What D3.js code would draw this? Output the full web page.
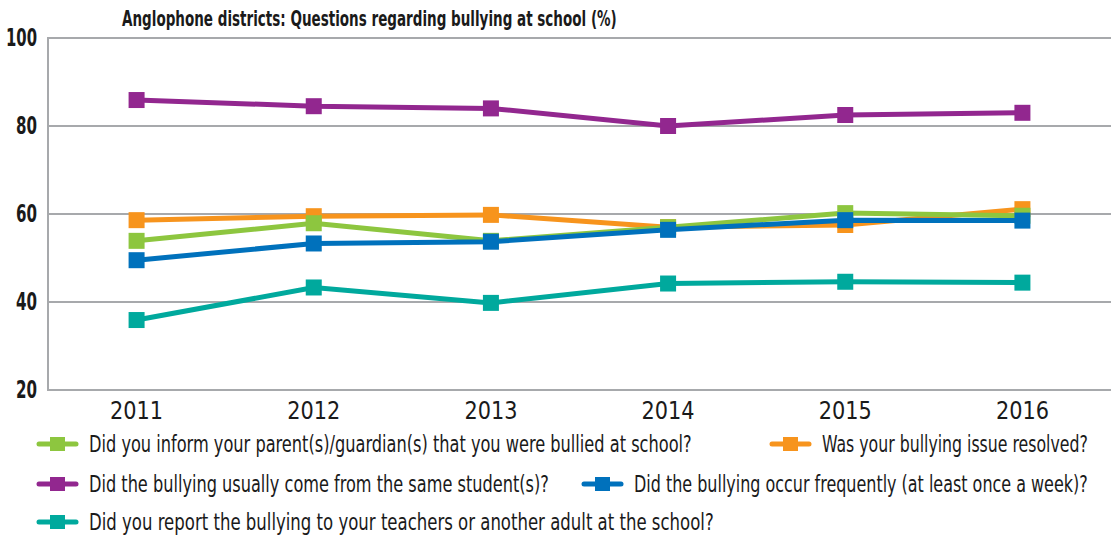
<!DOCTYPE html>
<html>
<head>
<meta charset="utf-8">
<script src="https://cdn.jsdelivr.net/npm/d3@7"></script>
<style>
  body { margin: 0; background: #fff; }
  svg text { font-family: "DejaVu Sans", sans-serif; font-stretch: condensed; fill: #1a1a1a; }
</style>
</head>
<body>
<script>
// data
var years = ["2011", "2012", "2013", "2014", "2015", "2016"];
var informParents = [53.9, 57.9, 53.9, 57.0, 60.2, 59.6];
var issueResolved = [58.6, 59.5, 59.8, 57.0, 57.5, 61.1];
var sameStudent = [85.9, 84.5, 84.0, 80.0, 82.5, 83.0];
var occurFrequently = [49.5, 53.3, 53.7, 56.4, 58.6, 58.5];
var reportTeachers = [35.9, 43.3, 39.8, 44.2, 44.6, 44.4];
var yTicks = [20, 40, 60, 80, 100];

var series = [
  { name: "Was your bullying issue resolved?", values: issueResolved, color: "#f7941d" },
  { name: "Did you inform your parent(s)/guardian(s) that you were bullied at school?", values: informParents, color: "#8dc63f" },
  { name: "Did the bullying usually come from the same student(s)?", values: sameStudent, color: "#92278f" },
  { name: "Did you report the bullying to your teachers or another adult at the school?", values: reportTeachers, color: "#00a99d" },
  { name: "Did the bullying occur frequently (at least once a week)?", values: occurFrequently, color: "#0071bc" }
];

var width = 1111, height = 537;
var plotLeft = 48, plotRight = 1111, plotTop = 38, plotBottom = 390;

var svg = d3.select("body").append("svg")
  .attr("width", width)
  .attr("height", height);

var x = d3.scaleBand().domain(years).range([plotLeft, plotRight]);
var y = d3.scaleLinear().domain([20, 100]).range([plotBottom, plotTop]);

// squeeze a text horizontally to a given width (condensed look)
function squeeze(sel, x0, y0, w) {
  sel.each(function() {
    var n = this.getComputedTextLength();
    var k = typeof w === "function" ? w.apply(this, arguments) : w;
    d3.select(this).attr("transform",
      "translate(" + x0 + "," + y0 + ") scale(" + (k / n) + ",1)");
  });
}

// title
svg.append("text")
  .attr("font-size", 21).attr("font-weight", "bold")
  .text("Anglophone districts: Questions regarding bullying at school (%)")
  .call(squeeze, 122, 26, 495);

// grid lines
svg.append("g").selectAll("line")
  .data(yTicks)
  .join("line")
  .attr("x1", plotLeft).attr("x2", plotRight)
  .attr("y1", function(d) { return y(d); })
  .attr("y2", function(d) { return y(d); })
  .attr("stroke", "#a7a9ac").attr("stroke-width", 2);

svg.append("line")
  .attr("x1", plotLeft).attr("x2", plotLeft)
  .attr("y1", plotTop - 1).attr("y2", plotBottom + 1)
  .attr("stroke", "#a7a9ac").attr("stroke-width", 2);

// y labels
var yAxis = d3.axisLeft(y).tickValues(yTicks).tickSize(0).tickPadding(11);
var gy = svg.append("g").attr("transform", "translate(" + plotLeft + ",0)").call(yAxis);
gy.select(".domain").remove();
gy.selectAll("text")
  .attr("font-size", 24).attr("font-weight", "bold")
  .attr("textLength", function(d) { return d >= 100 ? 31 : 21; })
  .attr("lengthAdjust", "spacingAndGlyphs")
  .style("font-family", "'DejaVu Sans', sans-serif")
  .attr("fill", "#1a1a1a");

// x labels
var xAxis = d3.axisBottom(x).tickSize(0).tickPadding(12);
var gx = svg.append("g").attr("transform", "translate(0," + plotBottom + ")").call(xAxis);
gx.select(".domain").remove();
gx.selectAll("text")
  .attr("font-size", 24)
  .attr("textLength", 53).attr("lengthAdjust", "spacingAndGlyphs")
  .style("font-family", "'DejaVu Sans', sans-serif")
  .attr("fill", "#1a1a1a");

// lines and markers
var line = d3.line()
  .x(function(d, i) { return x(years[i]) + x.bandwidth() / 2; })
  .y(function(d) { return y(d); });

var ms = 16;
series.forEach(function(s) {
  var g = svg.append("g");
  g.append("path")
    .attr("d", line(s.values))
    .attr("fill", "none")
    .attr("stroke", s.color)
    .attr("stroke-width", 5);
  g.selectAll("rect")
    .data(s.values)
    .join("rect")
    .attr("x", function(d, i) { return x(years[i]) + x.bandwidth() / 2 - ms / 2; })
    .attr("y", function(d) { return y(d) - ms / 2; })
    .attr("width", ms).attr("height", ms)
    .attr("fill", s.color);
});

// legend
var legendItems = [
  { s: series[1], x: 37, y: 444, w: 603 },
  { s: series[0], x: 770, y: 444, w: 266 },
  { s: series[2], x: 37, y: 484, w: 460 },
  { s: series[4], x: 582, y: 484, w: 454 },
  { s: series[3], x: 37, y: 522, w: 625 }
];

var lg = svg.append("g").selectAll("g")
  .data(legendItems)
  .join("g")
  .attr("transform", function(d) { return "translate(" + d.x + "," + d.y + ")"; });

lg.append("line")
  .attr("x1", 2).attr("x2", 39)
  .attr("stroke", function(d) { return d.s.color; })
  .attr("stroke-width", 5)
  .attr("stroke-linecap", "round");
lg.append("rect")
  .attr("x", 13).attr("y", -7).attr("width", 15).attr("height", 14)
  .attr("fill", function(d) { return d.s.color; });
lg.append("text")
  .attr("dy", "0.36em")
  .attr("font-size", 23)
  .text(function(d) { return d.s.name; })
  .call(squeeze, 52, 0, function(d) { return d.w; });
</script>
</body>
</html>
